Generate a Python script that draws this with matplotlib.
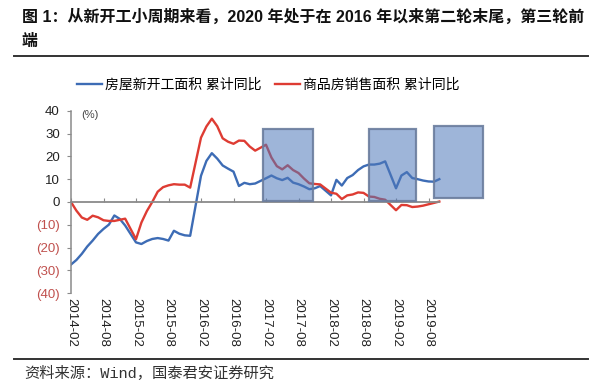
import numpy as np
import matplotlib
matplotlib.use("Agg")
import matplotlib.pyplot as plt
from matplotlib.patches import Rectangle
from matplotlib.lines import Line2D

plt.rcParams['font.family'] = ['Liberation Sans', 'Noto Sans CJK SC', 'DejaVu Sans']

# monthly data, January not published (Feb is Jan-Feb cumulative)
months = [f"{y}-{m:02d}" for y in range(2014, 2020) for m in range(2, 13)][:64]

# 房屋新开工面积 累计同比 (%)
new_starts = [-27.4, -25.4, -22.7, -19.5, -16.9, -14.0, -11.8, -9.9, -5.9, -7.4, -10.3,
              -17.7, -18.4, -17.1, -16.2, -15.8, -16.2, -16.9, -12.6, -13.9, -14.6, -14.8,
              11.5, 18.0, 21.4, 19.0, 16.0, 14.6, 13.3, 7.0, 8.4, 7.8, 8.1,
              10.4, 11.6, 10.4, 9.6, 10.6, 8.5, 7.8, 6.8, 5.6, 6.0, 7.0,
              2.9, 9.7, 7.2, 10.5, 11.8, 14.0, 15.6, 16.4, 16.4, 16.8, 17.8,
              6.0, 11.6, 13.1, 10.5, 10.0, 9.4, 9.0, 8.9, 10.0]

# 商品房销售面积 累计同比 (%)
sales = [0.0, -3.8, -6.8, -7.8, -6.0, -6.7, -8.0, -8.3, -8.3, -7.8, -7.3,
         -16.3, -9.0, -4.0, 0.0, 4.5, 6.5, 7.3, 7.8, 7.6, 7.6, 6.3,
         28.2, 33.1, 36.5, 33.2, 27.9, 26.4, 25.5, 26.9, 26.8, 24.3, 22.5,
         25.1, 19.5, 15.7, 14.3, 16.1, 14.0, 12.7, 10.3, 8.2, 7.9, 7.7,
         4.1, 3.6, 1.3, 2.9, 3.3, 4.2, 4.0, 2.4, 2.2, 1.4, 1.0,
         -3.6, -1.3, -1.4, -2.2, -2.0, -1.6, -1.0, -0.4, 0.2]

# highlighted periods (month offsets from 2014-02) and box heights
box_start = [35.5, 55.0, 67.1]
box_end = [44.6, 63.7, 76.0]
box_low = [0.6, 0.6, 1.6]
box_high = [32.1, 32.1, 33.4]

tick_labels = ["2014-02", "2014-08", "2015-02", "2015-08", "2016-02", "2016-08",
               "2017-02", "2017-08", "2018-02", "2018-08", "2019-02", "2019-08"]
yticks = [-40, -30, -20, -10, 0, 10, 20, 30, 40]


def month_pos(s):
    y, m = s.split("-")
    return (int(y) - 2014) * 12 + int(m) - 2


x = [month_pos(s) for s in months]

fig = plt.figure(figsize=(6, 3.88), dpi=100)
ax = fig.add_axes([71 / 600, 1 - 293.3 / 388, 487.5 / 600, 182.6 / 388])

blue = '#3d6cb5'
red = '#de3c33'
l1, = ax.plot(x, new_starts, color=blue, lw=1.7, solid_joinstyle='round', zorder=2)
l2, = ax.plot(x, sales, color=red, lw=1.7, solid_joinstyle='round', zorder=2)

for a, b, lo, hi in zip(box_start, box_end, box_low, box_high):
    ax.add_patch(Rectangle((a, lo), b - a, hi - lo, facecolor=(0.31, 0.47, 0.73, 0.55),
                           edgecolor=(0.42, 0.49, 0.62, 0.9), lw=1.6, zorder=3))

ax.set_xlim(0, 90)
ax.set_ylim(-40, 40)

for s in ['top', 'right']:
    ax.spines[s].set_visible(False)
ax.spines['bottom'].set_position(('data', 0))
ax.spines['bottom'].set_bounds(0, x[-1])
ax.spines['bottom'].set_color('#8a8a8a')
ax.spines['bottom'].set_linewidth(1.3)
ax.spines['left'].set_color('#8a8a8a')
ax.spines['left'].set_linewidth(1.1)

ax.set_xticks([month_pos(s) for s in tick_labels])
ax.set_xticklabels(tick_labels, rotation=-90, fontsize=9.5, color='#222222')
ax.tick_params(axis='x', direction='in', length=3, color='#8a8a8a', pad=69)

ax.set_yticks(yticks)
ax.set_yticklabels([f"({-v})" if v < 0 else str(v) for v in yticks], fontsize=9.5)
ax.tick_params(axis='y', direction='out', length=3, color='#8a8a8a', pad=5)
for lbl, v in zip(ax.get_yticklabels(), yticks):
    lbl.set_color('#c0504d' if v < 0 else '#222222')

ax.text(0.02, 0.975, "(%)", transform=ax.transAxes, fontsize=8, va='center',
        ha='left', color='#444444')

fig.legend([l1, l2], ["房屋新开工面积 累计同比", "商品房销售面积 累计同比"],
           loc='center', bbox_to_anchor=(268 / 600, 1 - 85 / 388), ncol=2,
           frameon=False, fontsize=10, handlelength=1.8, handletextpad=0.2,
           columnspacing=1.0)

# title, rules, source
fig.text(22 / 600, 1 - 17 / 388,
         "图 1：从新开工小周期来看，2020 年处于在 2016 年以来第二轮末尾，第三轮前",
         fontsize=11.5, fontweight='bold', va='center', ha='left', color='#111111')
fig.text(22 / 600, 1 - 41 / 388, "端", fontsize=11.5, fontweight='bold',
         va='center', ha='left', color='#111111')
fig.add_artist(Line2D([14 / 600, 588 / 600], [1 - 56 / 388] * 2, color='#333333', lw=1.4))
fig.add_artist(Line2D([14 / 600, 588 / 600], [1 - 359 / 388] * 2, color='#333333', lw=1.4))
fig.text(24 / 600, 1 - 373 / 388, "资料来源：Wind，国泰君安证券研究", fontsize=11,
         va='center', ha='left', color='#333333',
         family=['Liberation Mono', 'Noto Sans CJK SC'])

fig.savefig("out.png", dpi=100)
